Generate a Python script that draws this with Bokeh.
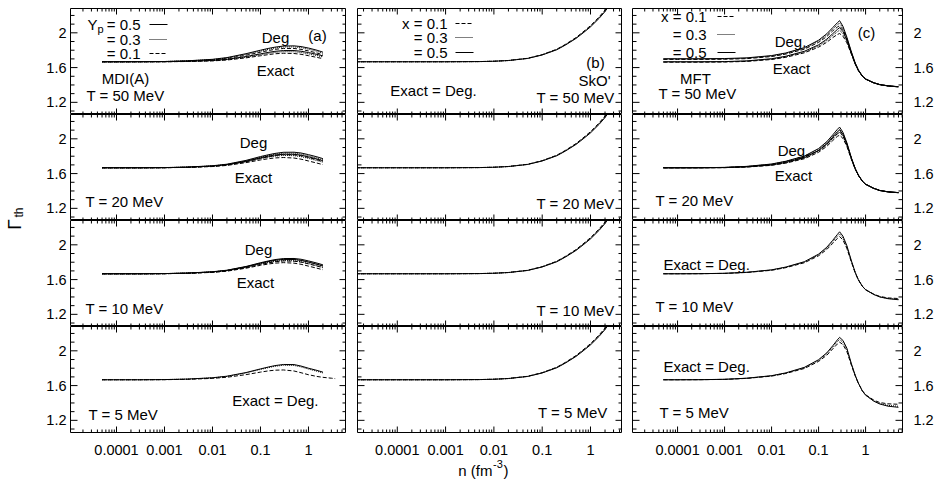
import math
from bokeh.plotting import figure
from bokeh.models import (LogAxis, LinearAxis, FixedTicker, CustomJSTickFormatter,
                          Label, Range1d, Arrow)
from bokeh.layouts import row, column
from bokeh.embed import file_html
from bokeh.resources import INLINE

FONT = "Liberation Sans"

# ---------------- data ----------------
T_labels = ["T = 50 MeV", "T = 20 MeV", "T = 10 MeV", "T = 5 MeV"]

# (a) MDI(A)
n_a = [5e-5, 1e-4, 3e-4, 1e-3, 3e-3, 0.01, 0.02, 0.05, 0.1, 0.15, 0.2, 0.3, 0.5, 0.7, 1.0, 1.5, 2.0]
n_a_long = [5e-5, 1e-4, 3e-4, 1e-3, 3e-3, 0.01, 0.02, 0.05, 0.1, 0.15, 0.2, 0.3, 0.5, 0.7, 1.0, 1.5, 2.0, 3.0, 3.6]

a50_deg_05 = [1.667, 1.667, 1.668, 1.670, 1.678, 1.695, 1.715, 1.760, 1.800, 1.822, 1.835, 1.848, 1.850, 1.842, 1.825, 1.800, 1.778]
a50_deg_03 = [1.667, 1.667, 1.668, 1.670, 1.677, 1.692, 1.710, 1.752, 1.790, 1.812, 1.825, 1.837, 1.838, 1.830, 1.812, 1.788, 1.765]
a50_deg_01 = [1.667, 1.667, 1.668, 1.669, 1.675, 1.688, 1.704, 1.742, 1.777, 1.797, 1.810, 1.820, 1.820, 1.810, 1.792, 1.768, 1.747]
a50_ex_05 = [1.667, 1.667, 1.667, 1.668, 1.672, 1.682, 1.695, 1.727, 1.758, 1.776, 1.787, 1.796, 1.796, 1.788, 1.773, 1.752, 1.735]
a50_ex_03 = [1.667, 1.667, 1.667, 1.668, 1.671, 1.680, 1.692, 1.720, 1.748, 1.765, 1.775, 1.783, 1.782, 1.774, 1.758, 1.738, 1.722]
a50_ex_01 = [1.667, 1.667, 1.667, 1.667, 1.670, 1.677, 1.687, 1.712, 1.736, 1.750, 1.759, 1.765, 1.762, 1.753, 1.737, 1.717, 1.703]

a20_deg_05 = [1.667, 1.667, 1.667, 1.669, 1.675, 1.690, 1.708, 1.752, 1.796, 1.818, 1.832, 1.845, 1.846, 1.837, 1.818, 1.793, 1.772]
a20_deg_03 = [1.667, 1.667, 1.667, 1.669, 1.674, 1.688, 1.705, 1.746, 1.788, 1.809, 1.823, 1.835, 1.835, 1.825, 1.805, 1.780, 1.758]
a20_deg_01 = [1.667, 1.667, 1.667, 1.668, 1.673, 1.685, 1.700, 1.737, 1.775, 1.795, 1.807, 1.818, 1.816, 1.805, 1.785, 1.760, 1.740]
a20_ex_05 = [1.667, 1.667, 1.667, 1.668, 1.673, 1.686, 1.702, 1.742, 1.782, 1.802, 1.814, 1.823, 1.822, 1.812, 1.793, 1.768, 1.748]
a20_ex_03 = [1.667, 1.667, 1.667, 1.668, 1.672, 1.684, 1.699, 1.735, 1.772, 1.790, 1.801, 1.809, 1.806, 1.795, 1.775, 1.750, 1.731]
a20_ex_01 = [1.667, 1.667, 1.667, 1.668, 1.671, 1.681, 1.694, 1.726, 1.757, 1.772, 1.780, 1.785, 1.779, 1.766, 1.745, 1.721, 1.703]

a10_deg_05 = [1.667, 1.667, 1.667, 1.669, 1.675, 1.690, 1.708, 1.751, 1.794, 1.816, 1.830, 1.842, 1.843, 1.834, 1.815, 1.790, 1.770]
a10_deg_03 = [1.667, 1.667, 1.667, 1.669, 1.674, 1.688, 1.705, 1.746, 1.787, 1.808, 1.822, 1.833, 1.833, 1.823, 1.803, 1.778, 1.757]
a10_deg_01 = [1.667, 1.667, 1.667, 1.668, 1.673, 1.685, 1.700, 1.737, 1.774, 1.793, 1.805, 1.815, 1.812, 1.801, 1.781, 1.756, 1.736]
a10_ex_05 = [1.667, 1.667, 1.667, 1.669, 1.674, 1.688, 1.705, 1.747, 1.788, 1.809, 1.822, 1.832, 1.831, 1.821, 1.801, 1.776, 1.756]
a10_ex_03 = [1.667, 1.667, 1.667, 1.668, 1.673, 1.686, 1.702, 1.741, 1.779, 1.798, 1.810, 1.818, 1.816, 1.805, 1.785, 1.760, 1.740]
a10_ex_01 = [1.667, 1.667, 1.667, 1.668, 1.672, 1.683, 1.697, 1.731, 1.764, 1.780, 1.789, 1.795, 1.789, 1.776, 1.755, 1.731, 1.713]

a5_05 = [1.667, 1.667, 1.667, 1.669, 1.675, 1.690, 1.708, 1.750, 1.792, 1.815, 1.830, 1.843, 1.842, 1.825, 1.800, 1.775, 1.755]
a5_03 = [1.667, 1.667, 1.667, 1.669, 1.674, 1.688, 1.705, 1.746, 1.786, 1.808, 1.822, 1.834, 1.832, 1.815, 1.790, 1.765, 1.746]
a5_01 = [1.667, 1.667, 1.667, 1.668, 1.672, 1.683, 1.696, 1.726, 1.755, 1.770, 1.777, 1.780, 1.768, 1.748, 1.725, 1.705, 1.695, 1.685, 1.680]

# (b) SkO'  (exact = degenerate)
n_b = [1e-5, 5e-5, 1e-4, 1e-3, 0.005, 0.01, 0.02, 0.05, 0.1, 0.2, 0.3, 0.5, 0.7, 1.0, 1.5, 2.0, 3.0]
b_x05 = [1.667, 1.667, 1.667, 1.667, 1.669, 1.673, 1.681, 1.705, 1.745, 1.805, 1.858, 1.935, 1.998, 2.068, 2.165, 2.245, 2.385]
b_x03 = [1.667, 1.667, 1.667, 1.667, 1.669, 1.673, 1.681, 1.706, 1.747, 1.808, 1.862, 1.940, 2.004, 2.075, 2.173, 2.254, 2.395]
b_x01 = [1.667, 1.667, 1.667, 1.667, 1.669, 1.673, 1.682, 1.707, 1.749, 1.811, 1.866, 1.945, 2.010, 2.082, 2.181, 2.263, 2.405]

# (c) MFT
n_c = [5e-5, 1e-4, 3e-4, 1e-3, 3e-3, 0.01, 0.02, 0.05, 0.1, 0.15, 0.2, 0.25, 0.28, 0.33, 0.4, 0.5, 0.6, 0.7, 0.85, 1.0, 1.5, 2.0, 3.0, 5.0]

c50_deg_05 = [1.702, 1.702, 1.702, 1.704, 1.712, 1.738, 1.768, 1.830, 1.915, 1.990, 2.060, 2.115, 2.140, 2.075, 1.950, 1.780, 1.655, 1.575, 1.505, 1.470, 1.425, 1.405, 1.390, 1.380]
c50_deg_03 = [1.698, 1.698, 1.698, 1.700, 1.708, 1.733, 1.762, 1.822, 1.903, 1.975, 2.042, 2.092, 2.112, 2.055, 1.938, 1.775, 1.652, 1.573, 1.504, 1.469, 1.425, 1.405, 1.390, 1.380]
c50_deg_01 = [1.694, 1.694, 1.694, 1.696, 1.703, 1.727, 1.755, 1.812, 1.890, 1.958, 2.022, 2.066, 2.082, 2.035, 1.925, 1.768, 1.648, 1.570, 1.502, 1.468, 1.424, 1.404, 1.389, 1.379]
c50_ex_05 = [1.667, 1.667, 1.667, 1.669, 1.677, 1.702, 1.730, 1.788, 1.862, 1.928, 1.990, 2.038, 2.060, 2.015, 1.915, 1.765, 1.646, 1.569, 1.502, 1.468, 1.424, 1.404, 1.389, 1.379]
c50_ex_03 = [1.665, 1.665, 1.665, 1.667, 1.675, 1.698, 1.725, 1.780, 1.850, 1.912, 1.970, 2.012, 2.030, 1.992, 1.902, 1.760, 1.644, 1.568, 1.501, 1.467, 1.423, 1.403, 1.388, 1.378]
c50_ex_01 = [1.662, 1.662, 1.662, 1.664, 1.671, 1.693, 1.718, 1.770, 1.835, 1.892, 1.945, 1.980, 1.992, 1.962, 1.885, 1.752, 1.640, 1.566, 1.500, 1.466, 1.423, 1.403, 1.388, 1.378]

c20_deg_05 = [1.667, 1.667, 1.668, 1.671, 1.683, 1.710, 1.742, 1.802, 1.888, 1.968, 2.045, 2.108, 2.135, 2.075, 1.955, 1.780, 1.660, 1.585, 1.515, 1.478, 1.430, 1.406, 1.390, 1.381]
c20_deg_03 = [1.667, 1.667, 1.668, 1.671, 1.682, 1.708, 1.739, 1.797, 1.879, 1.955, 2.028, 2.085, 2.110, 2.057, 1.945, 1.775, 1.658, 1.584, 1.514, 1.477, 1.430, 1.406, 1.390, 1.381]
c20_deg_01 = [1.667, 1.667, 1.668, 1.670, 1.680, 1.705, 1.734, 1.789, 1.866, 1.937, 2.005, 2.058, 2.080, 2.035, 1.932, 1.770, 1.655, 1.582, 1.513, 1.477, 1.429, 1.405, 1.389, 1.380]
c20_ex_05 = [1.667, 1.667, 1.667, 1.669, 1.678, 1.700, 1.728, 1.784, 1.866, 1.944, 2.019, 2.078, 2.102, 2.050, 1.940, 1.774, 1.657, 1.583, 1.514, 1.477, 1.430, 1.406, 1.390, 1.381]
c20_ex_03 = [1.667, 1.667, 1.667, 1.669, 1.677, 1.698, 1.725, 1.779, 1.857, 1.931, 2.002, 2.055, 2.075, 2.030, 1.928, 1.769, 1.655, 1.582, 1.513, 1.476, 1.429, 1.405, 1.389, 1.380]
c20_ex_01 = [1.667, 1.667, 1.667, 1.668, 1.675, 1.695, 1.720, 1.771, 1.845, 1.914, 1.980, 2.028, 2.042, 2.005, 1.913, 1.762, 1.651, 1.580, 1.512, 1.476, 1.429, 1.405, 1.389, 1.380]

c10_05 = [1.667, 1.667, 1.668, 1.672, 1.684, 1.712, 1.744, 1.806, 1.893, 1.973, 2.052, 2.118, 2.150, 2.100, 1.990, 1.815, 1.685, 1.600, 1.525, 1.483, 1.428, 1.400, 1.380, 1.368]
c10_03 = [1.667, 1.667, 1.668, 1.672, 1.683, 1.710, 1.741, 1.801, 1.885, 1.962, 2.037, 2.098, 2.125, 2.080, 1.975, 1.808, 1.682, 1.599, 1.524, 1.483, 1.429, 1.402, 1.383, 1.373]
c10_01 = [1.667, 1.667, 1.668, 1.671, 1.682, 1.707, 1.737, 1.794, 1.874, 1.947, 2.017, 2.073, 2.095, 2.056, 1.958, 1.800, 1.678, 1.597, 1.524, 1.484, 1.432, 1.406, 1.389, 1.382]

c5_05 = [1.667, 1.667, 1.668, 1.672, 1.685, 1.714, 1.746, 1.810, 1.898, 1.978, 2.058, 2.125, 2.155, 2.120, 2.030, 1.850, 1.720, 1.630, 1.540, 1.490, 1.420, 1.388, 1.363, 1.350]
c5_03 = [1.667, 1.667, 1.668, 1.672, 1.684, 1.712, 1.743, 1.805, 1.890, 1.967, 2.043, 2.105, 2.130, 2.098, 2.012, 1.842, 1.716, 1.628, 1.540, 1.491, 1.424, 1.394, 1.372, 1.362]
c5_01 = [1.667, 1.667, 1.668, 1.671, 1.683, 1.709, 1.739, 1.797, 1.878, 1.950, 2.022, 2.078, 2.100, 2.072, 1.992, 1.833, 1.712, 1.627, 1.542, 1.495, 1.432, 1.405, 1.390, 1.385]

x_tick_values = [1e-4, 1e-3, 1e-2, 1e-1, 1.0]
y_tick_values = [1.2, 1.6, 2.0]
y_minor_values = [1.1, 1.3, 1.4, 1.5, 1.7, 1.8, 1.9, 2.1, 2.2]

# ---------------- layout geometry ----------------
COL_LEFT = [70, 357, 632]
COL_W = [276, 265, 270]
ROW_TOP = [8, 114, 220, 326]
FH = 106
XR = [(1.1e-5, 6.2), (1.5e-5, 4.6), (1.1e-5, 6.1)]
YR = (1.06, 2.28)
BORDER_L = [40, 11, 10]
BORDER_R = [0, 0, 37]
BOTTOM_BORDER = 22

SOLID, DOT, DASH = "solid", "1 1", "4 2"

x_minor_values = [k * 10.0 ** e for e in range(-5, 1) for k in range(2, 10)]
fmt = CustomJSTickFormatter(code="return String(tick);")

curves = {
    (0, 0): [(n_a, a50_deg_05, SOLID), (n_a, a50_deg_03, DOT), (n_a, a50_deg_01, DASH),
             (n_a, a50_ex_05, SOLID), (n_a, a50_ex_03, DOT), (n_a, a50_ex_01, DASH)],
    (1, 0): [(n_a, a20_deg_05, SOLID), (n_a, a20_deg_03, DOT), (n_a, a20_deg_01, DASH),
             (n_a, a20_ex_05, SOLID), (n_a, a20_ex_03, DOT), (n_a, a20_ex_01, DASH)],
    (2, 0): [(n_a, a10_deg_05, SOLID), (n_a, a10_deg_03, DOT), (n_a, a10_deg_01, DASH),
             (n_a, a10_ex_05, SOLID), (n_a, a10_ex_03, DOT), (n_a, a10_ex_01, DASH)],
    (3, 0): [(n_a, a5_05, SOLID), (n_a, a5_03, DOT), (n_a_long, a5_01, DASH)],
    (0, 2): [(n_c, c50_deg_05, SOLID), (n_c, c50_deg_03, DOT), (n_c, c50_deg_01, DASH),
             (n_c, c50_ex_05, SOLID), (n_c, c50_ex_03, DOT), (n_c, c50_ex_01, DASH)],
    (1, 2): [(n_c, c20_deg_05, SOLID), (n_c, c20_deg_03, DOT), (n_c, c20_deg_01, DASH),
             (n_c, c20_ex_05, SOLID), (n_c, c20_ex_03, DOT), (n_c, c20_ex_01, DASH)],
    (2, 2): [(n_c, c10_05, SOLID), (n_c, c10_03, DOT), (n_c, c10_01, DASH)],
    (3, 2): [(n_c, c5_05, SOLID), (n_c, c5_03, DOT), (n_c, c5_01, DASH)],
}
for r in range(4):
    curves[(r, 1)] = [(n_b, b_x05, SOLID), (n_b, b_x03, DOT), (n_b, b_x01, DASH)]

# text annotations (page pixel positions)
texts = [
    (0, 0, "= 0.5", 140, 24, "right", 15), (0, 0, "= 0.3", 140, 39, "right", 15),
    (0, 0, "= 0.1", 140, 53, "right", 15), (0, 0, "Y", 87, 24, "left", 15),
    (0, 0, "p", 97, 28, "left", 11),
    (0, 0, "Deg", 275, 37, "center", 15), (0, 0, "Exact", 275, 70, "center", 15),
    (0, 0, "(a)", 317, 35, "center", 15), (0, 0, "MDI(A)", 125, 78, "center", 15),
    (0, 0, T_labels[0], 86, 95, "left", 15),
    (0, 1, "x = 0.1", 447, 23, "right", 15), (0, 1, "= 0.3", 447, 37, "right", 15),
    (0, 1, "= 0.5", 447, 52, "right", 15), (0, 1, "(b)", 595, 62, "center", 15),
    (0, 1, "SkO'", 594, 80, "center", 15), (0, 1, T_labels[0], 614, 97, "right", 15),
    (0, 1, "Exact = Deg.", 433, 90, "center", 15),
    (0, 2, "x = 0.1", 706, 16, "right", 15), (0, 2, "= 0.3", 706, 34, "right", 15),
    (0, 2, "= 0.5", 706, 52, "right", 15), (0, 2, "Deg.", 790, 41, "center", 15),
    (0, 2, "Exact", 791, 68, "center", 15), (0, 2, "MFT", 695, 78, "center", 15),
    (0, 2, T_labels[0], 697, 93, "center", 15), (0, 2, "(c)", 866, 32, "center", 15),
    (1, 0, "Deg", 253, 142, "center", 15), (1, 0, "Exact", 253, 177, "center", 15),
    (1, 0, T_labels[1], 85, 201, "left", 15),
    (1, 1, T_labels[1], 614, 203, "right", 15),
    (1, 2, "Deg.", 793, 150, "center", 15), (1, 2, "Exact", 793, 175, "center", 15),
    (1, 2, T_labels[1], 655, 200, "left", 15),
    (2, 0, "Deg", 258, 249, "center", 15), (2, 0, "Exact", 255, 282, "center", 15),
    (2, 0, T_labels[2], 85, 308, "left", 15),
    (2, 1, T_labels[2], 614, 310, "right", 15),
    (2, 2, "Exact = Deg.", 663, 264, "left", 15), (2, 2, T_labels[2], 655, 306, "left", 15),
    (3, 0, "Exact = Deg.", 318, 400, "right", 15), (3, 0, T_labels[3], 88, 414, "left", 15),
    (3, 1, T_labels[3], 607, 412, "right", 15),
    (3, 2, "Exact = Deg.", 663, 366, "left", 15), (3, 2, T_labels[3], 659, 412, "left", 15),
]
# legend samples: (row, col, x0, x1, y, dash) in page pixels
samples = [
    (0, 0, 149, 167, 24, SOLID), (0, 0, 149, 167, 39, DOT), (0, 0, 149, 167, 53, DASH),
    (0, 1, 455, 473, 23, DASH), (0, 1, 455, 473, 37, DOT), (0, 1, 455, 473, 52, SOLID),
    (0, 2, 717, 735, 16, DASH), (0, 2, 717, 735, 34, DOT), (0, 2, 717, 735, 52, SOLID),
]


def sx(c, px):
    return px - COL_LEFT[c]


def sy(r, py):
    return ROW_TOP[r] + FH - py


def label_axis(ax, standoff):
    ax.axis_line_color = None
    ax.major_tick_in = 0
    ax.major_tick_out = 0
    ax.minor_tick_in = 0
    ax.minor_tick_out = 0
    ax.major_tick_line_color = None
    ax.minor_tick_line_color = None
    ax.major_label_text_font = FONT
    ax.major_label_text_font_size = "14.5px"
    ax.major_label_text_color = "black"
    ax.major_label_standoff = standoff


def add_ticks(p, c):
    """Inward tick marks (gnuplot style) on all four sides, drawn as broken line paths
    at the tick values; tick lengths are given in pixels and converted through the scales."""
    x0, x1 = XR[c]
    y0, y1 = YR
    px_per_y = FH / (y1 - y0)
    px_per_dec = COL_W[c] / (math.log10(x1) - math.log10(x0))
    nan = float("nan")
    xs_major = [v for v in x_tick_values if x0 < v < x1]
    xs_minor = [v for v in x_minor_values if x0 < v < x1]
    tx, ty = [], []
    for xs, ln in ((xs_major, 6), (xs_minor, 3)):
        d = ln / px_per_y
        for v in xs:
            tx += [v, v, nan, v, v, nan]
            ty += [y0, y0 + d, nan, y1, y1 - d, nan]
    for ys, ln in ((y_tick_values, 7), (y_minor_values, 4)):
        f = 10 ** (ln / px_per_dec)
        for v in ys:
            tx += [x0, x0 * f, nan, x1, x1 / f, nan]
            ty += [v, v, nan, v, v, nan]
    p.line(tx, ty, line_color="black", line_width=1)


def make_panel(r, c):
    p = figure(x_axis_type="log", x_range=Range1d(*XR[c]), y_range=Range1d(*YR),
               frame_width=COL_W[c], frame_height=FH,
               min_border_left=BORDER_L[c], min_border_right=BORDER_R[c],
               min_border_top=8 if r == 0 else 0,
               min_border_bottom=BOTTOM_BORDER if r == 3 else 0,
               toolbar_location=None, output_backend="svg",
               x_axis_location=None, y_axis_location=None)
    p.grid.visible = False
    p.outline_line_color = "black"
    p.outline_line_width = 1
    p.background_fill_color = "white"
    p.border_fill_color = "white"

    if r == 3:
        ax = LogAxis(ticker=FixedTicker(ticks=x_tick_values, minor_ticks=[]), formatter=fmt)
        label_axis(ax, 12)
        p.add_layout(ax, "below")
    if c == 0:
        ax = LinearAxis(ticker=FixedTicker(ticks=y_tick_values, minor_ticks=[]), formatter=fmt)
        label_axis(ax, 4)
        p.add_layout(ax, "left")
    if c == 2:
        ax = LinearAxis(ticker=FixedTicker(ticks=y_tick_values, minor_ticks=[]), formatter=fmt)
        label_axis(ax, 11)
        p.add_layout(ax, "right")

    add_ticks(p, c)

    for xs, ys, dash in curves[(r, c)]:
        p.line(xs, ys, line_color="black", line_width=1, line_dash=dash)

    for (rr, cc, t, px, py, align, size) in texts:
        if rr == r and cc == c:
            p.add_layout(Label(x=sx(c, px), y=sy(r, py), x_units="screen", y_units="screen",
                               text=t, text_font=FONT, text_font_size=f"{size}px",
                               text_align=align, text_baseline="middle", text_color="black"))
    for (rr, cc, xa, xb, py, dash) in samples:
        if rr == r and cc == c:
            p.add_layout(Arrow(end=None, x_start=sx(c, xa), y_start=sy(r, py),
                               x_end=sx(c, xb), y_end=sy(r, py),
                               start_units="screen", end_units="screen",
                               line_color="black", line_width=1, line_dash=dash))
    return p


def blank(width, height, xr, yr):
    f = figure(width=width, height=height, x_range=Range1d(*xr), y_range=Range1d(*yr),
               min_border_left=0, min_border_right=0, min_border_top=0, min_border_bottom=0,
               toolbar_location=None, output_backend="svg",
               x_axis_location=None, y_axis_location=None)
    f.grid.visible = False
    f.outline_line_color = None
    return f


grid_rows = [row(*[make_panel(r, c) for c in range(3)]) for r in range(4)]

# y-axis title strip (page coordinates: x 0..30, y 0..482 downward)
ystrip = blank(30, 482, (0, 30), (482, 0))
ystrip.add_layout(Label(x=14, y=224, text="Γ", angle=math.pi / 2, text_font=FONT,
                        text_font_size="19px", text_align="center", text_baseline="middle",
                        text_color="black"))
ystrip.add_layout(Label(x=18, y=212, text="th", angle=math.pi / 2, text_font=FONT,
                        text_font_size="12px", text_align="center", text_baseline="middle",
                        text_color="black"))

# x-axis title strip (page coordinates: x 30..939, y below the last row .. 482)
top_x = 432 + BOTTOM_BORDER
xstrip = blank(909, 482 - top_x, (30, 939), (482, top_x))
xstrip.add_layout(Label(x=492, y=467, text="n (fm", text_font=FONT, text_font_size="15px",
                        text_align="right", text_baseline="middle", text_color="black"))
xstrip.add_layout(Label(x=492.5, y=460, text="-3", text_font=FONT, text_font_size="11px",
                        text_align="left", text_baseline="middle", text_color="black"))
xstrip.add_layout(Label(x=503, y=467, text=")", text_font=FONT, text_font_size="15px",
                        text_align="left", text_baseline="middle", text_color="black"))

layout = row(ystrip, column(*grid_rows, xstrip))

open("out.html", "w").write(file_html(layout, INLINE))
